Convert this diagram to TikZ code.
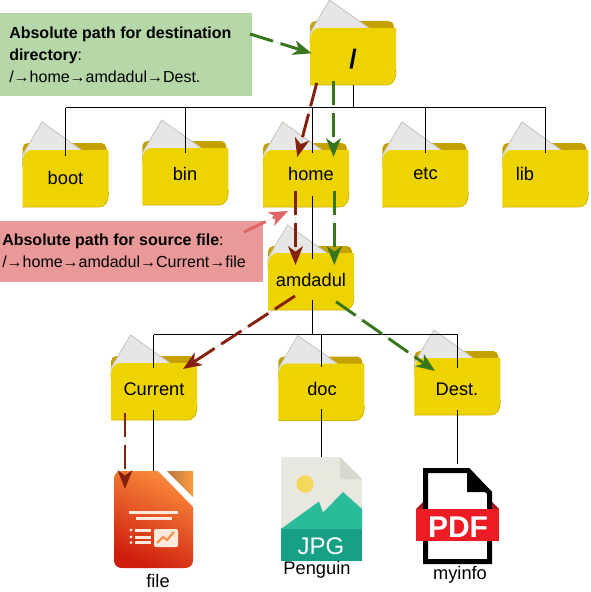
\documentclass[tikz,border=0pt]{standalone}
\usepackage{fontspec}
\setmainfont{Liberation Sans}
\usetikzlibrary{arrows.meta}
\definecolor{fbody}{HTML}{EDD400}
\definecolor{ftab}{HTML}{C4A000}
\definecolor{fpaper}{HTML}{E6E6E6}
\definecolor{fedge}{HTML}{C4C4B8}
\definecolor{gbox}{HTML}{B6D7A8}
\definecolor{pbox}{HTML}{EA9999}
\definecolor{garrow}{HTML}{38761D}
\definecolor{rarrow}{HTML}{85200C}
\definecolor{parrow}{HTML}{E06666}
\definecolor{jpgpage}{HTML}{E8E8E0}
\definecolor{jpgfold}{HTML}{D8D8CC}
\definecolor{jpgsun}{HTML}{F4D85E}
\definecolor{jpgmount}{HTML}{2ABB9B}
\definecolor{jpgband}{HTML}{16A085}
\definecolor{pdfred}{HTML}{ED1C24}
\definecolor{pdfdark}{HTML}{A5141A}
\definecolor{odtop}{HTML}{F98B3C}
\definecolor{odbot}{HTML}{CF1D0E}
\definecolor{odfold}{HTML}{B8763E}
\definecolor{odfoldb}{HTML}{FB9C42}
\definecolor{odpale}{HTML}{FFE8DC}
\tikzset{
  tree/.style={draw=black,line width=.75pt},
  pathline/.style={line width=2.2pt,dash pattern=on 18pt off 6pt,-{Stealth[length=14pt,width=11pt,inset=4pt]}},
  greenpath/.style={pathline,draw=garrow,fill=garrow},
  redpath/.style={pathline,draw=rarrow,fill=rarrow},
  pinkpath/.style={pathline,draw=parrow,fill=parrow},
  flabel/.style={font=\fontsize{13.7}{16}\selectfont,inner sep=0pt},
  caption/.style={font=\fontsize{13.7}{16}\selectfont,inner sep=0pt},
  note/.style={font=\fontsize{12}{16.5}\selectfont,inner sep=0pt,align=left,anchor=west},
}
\newcommand{\folderart}[2]{%
  \begin{scope}[shift={(#1,#2)}]
    \fill[ftab,rounded corners=4pt] (0,-7) -- (0,14) -- (84,14) -- (84,-7) -- cycle;
    \fill[fpaper,draw=fedge,line width=.6pt] (0,5) -- (19.5,-28) -- (59,0) -- (59,6) -- (0,16) -- cycle;
    \fill[fbody] (0,13) .. controls (0,5) and (3,0) .. (10,0) -- (86,0) -- (86,42) .. controls (86,52) and (83,57) .. (76,57) -- (0,57) -- cycle;
    \draw[ftab!70!fbody,line width=.5pt] (0,57) -- (76,57) .. controls (83,57) and (86,52) .. (86,42);
  \end{scope}}
\begin{document}
\begin{tikzpicture}[x=.75pt,y=-.75pt]
\useasboundingbox (0,0) rectangle (590,592);
\fill[white] (0,0) rectangle (590,592);
% note boxes
\node[fill=gbox,minimum width=189pt,minimum height=62.25pt,inner sep=0pt,anchor=north west] (gnote) at (0,13) {};
\node[fill=pbox,minimum width=197.25pt,minimum height=45.75pt,inner sep=0pt,anchor=north west] (pnote) at (0,221) {};
\node[note] (gtext) at (9,54.5) {\textbf{Absolute path for destination}\\\textbf{directory}:\\/→home→amdadul→Dest.};
\node[note] (ptext) at (2,251) {\textbf{Absolute path for source file}:\\/→home→amdadul→Current→file};
% folders
\folderart{310}{28}
\folderart{22.5}{150}
\folderart{142.3}{148}
\folderart{263}{150}
\folderart{382.3}{150}
\folderart{502.3}{150}
\folderart{268}{253}
\folderart{111}{363}
\folderart{278.3}{363.5}
\folderart{414.3}{358}
\node[flabel,font=\fontsize{20}{22}\selectfont\bfseries] (root) at (353,59) {/};
\node[flabel] (boot) at (65.5,177.5) {boot};
\node[flabel] (bin) at (185,174) {bin};
\node[flabel] (home) at (311,174) {home};
\node[flabel] (etc) at (425.5,174) {etc};
\node[flabel] (lib) at (525,174) {lib};
\node[flabel] (amdadul) at (311,280) {amdadul};
\node[flabel] (current) at (154,389) {Current};
\node[flabel] (doc) at (322,388.5) {doc};
\node[flabel] (dest) at (457,389) {Dest.};
% orange file icon
\begin{scope}
  \shade[top color=odtop,bottom color=odbot,shading angle=-25]
    (158,471) -- (122,471) .. controls (117,471) and (114,474) .. (114,479) -- (114,560) .. controls (114,565) and (117,568) .. (122,568) -- (185,568) .. controls (190,568) and (193,565) .. (193,560) -- (193,507) -- cycle;
  \shade[left color=odfold,right color=odfoldb] (167,471) -- (193,471) -- (193,497) -- cycle;
  \fill[odpale] (129,510.5) rectangle (178,513.5);
  \fill[odpale] (136,516.5) rectangle (172,519.5);
  \foreach \yy in {530,537,542.5}{\fill[odpale] (131,\yy) circle (1.6);\fill[odpale] (135,\yy-1.5) rectangle (151,\yy+1.5);}
  \fill[odpale,rounded corners=1.5pt] (154,529) rectangle (178,547);
  \draw[odtop,line width=1.5pt] (157,543) -- (163,537) -- (167,540) -- (174,532);
\end{scope}
% jpg icon
\fill[jpgpage] (281,459) .. controls (281,458) and (282,457) .. (283,457) -- (340,457) -- (362,479) -- (362,529) -- (281,529) -- cycle;
\fill[jpgfold] (340,457) -- (362,479) -- (340,479) -- cycle;
\fill[jpgsun] (305,484) circle (8.7);
\fill[jpgmount] (281,529) -- (319,501.5) -- (323,512.5) -- (343,492) -- (362,509) -- (362,529) -- cycle;
\fill[jpgband] (281,529) rectangle (362,561);
\node[inner sep=0pt,text=white,font=\fontsize{18}{20}\selectfont] (jpg) at (321,546) {JPG};
% pdf icon
\draw[black,line width=3.75pt,miter limit=10,fill=white] (425.7,470.5) -- (468,470.5) -- (489.5,493) -- (489.5,561.5) -- (425.7,561.5) -- cycle;
\fill[black] (467,468) -- (469,468) -- (492,492) -- (467,492) -- cycle;
\fill[pdfdark] (416,509) -- (423,502) -- (423,509) -- cycle;
\fill[pdfdark] (499,509) -- (492,502) -- (492,509) -- cycle;
\fill[pdfred] (416,509) rectangle (499,541);
\node[inner sep=0pt,text=white,font=\fontsize{22.5}{24}\selectfont\bfseries] (pdf) at (458,527.5) {PDF};
\node[caption] (cfile) at (158,581) {file};
\node[caption] (cpeng) at (317,570) {Penguin};
\node[caption] (cinfo) at (460,575) {myinfo};
% tree
\coordinate (bus1L) at (65.5,107.5); \coordinate (bus1R) at (545.5,107.5);
\coordinate (rootD) at (353.5,85); \coordinate (rootB) at (353.5,107.5);
\draw[tree] (bus1L) -- (bus1R);
\draw[tree] (rootD) -- (rootB);
\coordinate (bootT) at (65.5,156);
\coordinate (binU) at (185.5,107.5); \coordinate (binT) at (185.5,153);
\coordinate (homeU) at (312.5,107.5); \coordinate (homeT) at (312.5,153);
\coordinate (etcU) at (425.5,107.5); \coordinate (etcT) at (425.5,153);
\coordinate (libT) at (545.5,153);
\draw[tree] (bus1L) -- (bootT);
\draw[tree] (binU) -- (binT);
\draw[tree] (homeU) -- (homeT);
\draw[tree] (etcU) -- (etcT);
\draw[tree] (bus1R) -- (libT);
\coordinate (homeD) at (312.5,196); \coordinate (amdT) at (312.5,259);
\draw[tree] (homeD) -- (amdT);
\coordinate (amdD) at (312.5,300); \coordinate (amdB) at (312.5,334.5);
\draw[tree] (amdD) -- (amdB);
\coordinate (bus2L) at (153.5,334.5); \coordinate (bus2R) at (457.5,334.5);
\draw[tree] (bus2L) -- (bus2R);
\coordinate (curT) at (153.5,368); \coordinate (docT) at (321.5,367); \coordinate (destT) at (457.5,368);
\draw[tree] (bus2L) -- (curT);
\coordinate (docU) at (321.5,334.5); \draw[tree] (docU) -- (docT);
\draw[tree] (bus2R) -- (destT);
\coordinate (curD) at (153.5,410); \coordinate (fileT) at (153.5,471);
\coordinate (docD) at (321.5,409); \coordinate (jpgT) at (321.5,457);
\coordinate (destD) at (457.5,410); \coordinate (pdfT) at (457.5,464);
\draw[tree] (curD) -- (fileT);
\draw[tree] (docD) -- (jpgT);
\draw[tree] (destD) -- (pdfT);
% path arrows
\coordinate (g0) at (250,34); \coordinate (g1) at (311.7,53.3);
\coordinate (g2) at (333.5,81); \coordinate (g3) at (333.5,157);
\coordinate (g4) at (334.3,191); \coordinate (g5) at (334.3,265);
\coordinate (g6) at (336,301.7); \coordinate (g7) at (435,371);
\coordinate (r0) at (316.7,83); \coordinate (r1) at (297.3,157);
\coordinate (r2) at (295.5,191); \coordinate (r3) at (295.5,265);
\coordinate (r4) at (295,296); \coordinate (r5) at (183,369);
\coordinate (r6) at (125,413); \coordinate (r7) at (125,489);
\coordinate (p0) at (244,232); \coordinate (p1) at (288,211);
\draw[greenpath] (g0) -- (g1);
\draw[greenpath] (g2) -- (g3);
\draw[greenpath] (g4) -- (g5);
\draw[greenpath] (g6) -- (g7);
\draw[redpath] (r0) -- (r1);
\draw[redpath] (r2) -- (r3);
\draw[redpath] (r4) -- (r5);
\draw[redpath] (r6) -- (r7);
\draw[pinkpath] (p0) -- (p1);
\end{tikzpicture}
\end{document}
